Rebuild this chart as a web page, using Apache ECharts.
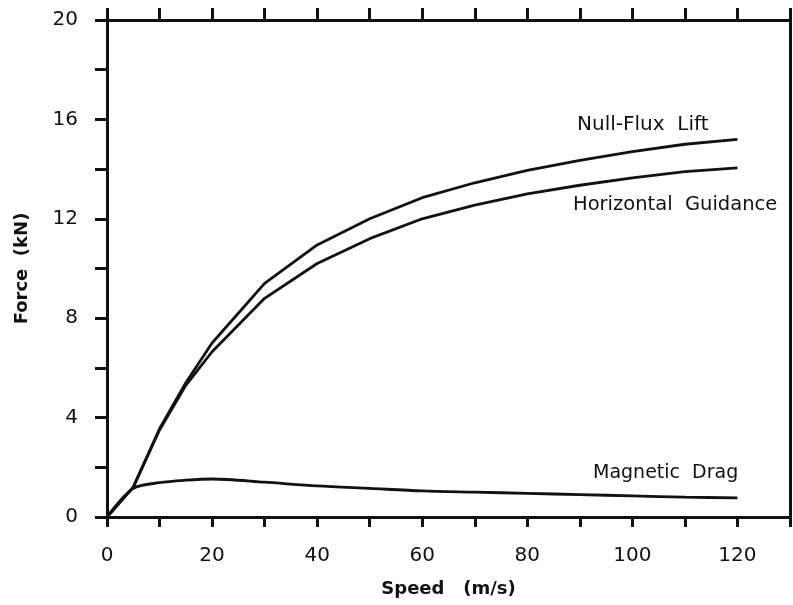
<!DOCTYPE html>
<html>
<head>
<meta charset="utf-8">
<script src="https://cdn.jsdelivr.net/npm/echarts@6/dist/echarts.min.js"></script>
<style>
  html, body { margin: 0; padding: 0; background: #fff; }
  #chart { width: 793px; height: 605px; }
</style>
</head>
<body>
<div id="chart"></div>
<script>
// speed (m/s) and force (kN)
var speed    = [0, 5, 10, 15, 20, 30, 40, 50, 60, 70, 80, 90, 100, 110, 120];
var lift     = [0, 1.2, 3.55, 5.4, 7.0, 9.4, 10.95, 12.0, 12.85, 13.45, 13.95, 14.35, 14.7, 15.0, 15.2];
var guidance = [0, 1.2, 3.5, 5.3, 6.65, 8.8, 10.2, 11.2, 12.0, 12.55, 13.0, 13.35, 13.65, 13.9, 14.05];
var drag     = [0, 1.15, 1.38, 1.48, 1.53, 1.4, 1.25, 1.15, 1.05, 1.0, 0.95, 0.9, 0.85, 0.8, 0.77];
var seriesNames = ['Null-Flux  Lift', 'Horizontal  Guidance', 'Magnetic  Drag'];

function pairs(ys) {
    var out = [];
    for (var i = 0; i < speed.length; i++) out.push([speed[i], ys[i]]);
    return out;
}

var ink = '#111';
var font = '"DejaVu Sans", Verdana, sans-serif';

var chart = echarts.init(document.getElementById('chart'), null, {renderer: 'canvas'});

function lineSeries(name, ys, smooth) {
    return {
        name: name,
        type: 'line',
        data: pairs(ys),
        showSymbol: false,
        smooth: smooth,
        lineStyle: {color: ink, width: 2.8},
        silent: true
    };
}

function seriesLabel(text, x, y, size) {
    return {
        type: 'text', x: x, y: y,
        style: {text: text, fill: ink, font: size + 'px ' + font, verticalAlign: 'middle'}
    };
}

chart.setOption({
    backgroundColor: '#fff',
    animation: false,
    grid: {left: 107, right: 3, top: 20, bottom: 88},
    xAxis: [{
        type: 'value', min: 0, max: 130, interval: 10,
        name: 'Speed   (m/s)', nameLocation: 'middle', nameGap: 63,
        nameTextStyle: {color: ink, fontFamily: font, fontWeight: 'bold', fontSize: 18},
        axisLine: {show: true, lineStyle: {color: ink, width: 3}},
        axisTick: {show: true, length: 10, lineStyle: {color: ink, width: 3}},
        axisLabel: {
            margin: 29, color: ink, fontFamily: font, fontSize: 20,
            formatter: function (v) { return (v % 20 === 0 && v <= 120) ? String(v) : ''; }
        },
        splitLine: {show: false}
    }, {
        type: 'value', position: 'top', min: 0, max: 130, interval: 10,
        axisLine: {show: true, onZero: false, lineStyle: {color: ink, width: 3}},
        axisTick: {show: true, length: 12, lineStyle: {color: ink, width: 3}},
        axisLabel: {show: false},
        splitLine: {show: false}
    }],
    yAxis: [{
        type: 'value', min: 0, max: 20, interval: 2,
        name: 'Force  (kN)', nameLocation: 'middle', nameGap: 76, nameRotate: 90,
        nameTextStyle: {color: ink, fontFamily: font, fontWeight: 'bold', fontSize: 18},
        axisLine: {show: true, lineStyle: {color: ink, width: 3}},
        axisTick: {show: true, length: 12, lineStyle: {color: ink, width: 3}},
        axisLabel: {
            margin: 29, color: ink, fontFamily: font, fontSize: 20,
            formatter: function (v) { return v % 4 === 0 ? String(v) : ''; }
        },
        splitLine: {show: false}
    }, {
        type: 'value', position: 'right', min: 0, max: 20,
        axisLine: {show: true, onZero: false, lineStyle: {color: ink, width: 3}},
        axisTick: {show: false},
        axisLabel: {show: false},
        splitLine: {show: false}
    }],
    series: [
        lineSeries(seriesNames[0], lift, false),
        lineSeries(seriesNames[1], guidance, false),
        lineSeries(seriesNames[2], drag, 0.3)
    ],
    graphic: [
        seriesLabel(seriesNames[0], 577, 125, 20),
        seriesLabel(seriesNames[1], 573, 205, 19.5),
        seriesLabel(seriesNames[2], 593, 473, 19)
    ]
});
</script>
</body>
</html>
